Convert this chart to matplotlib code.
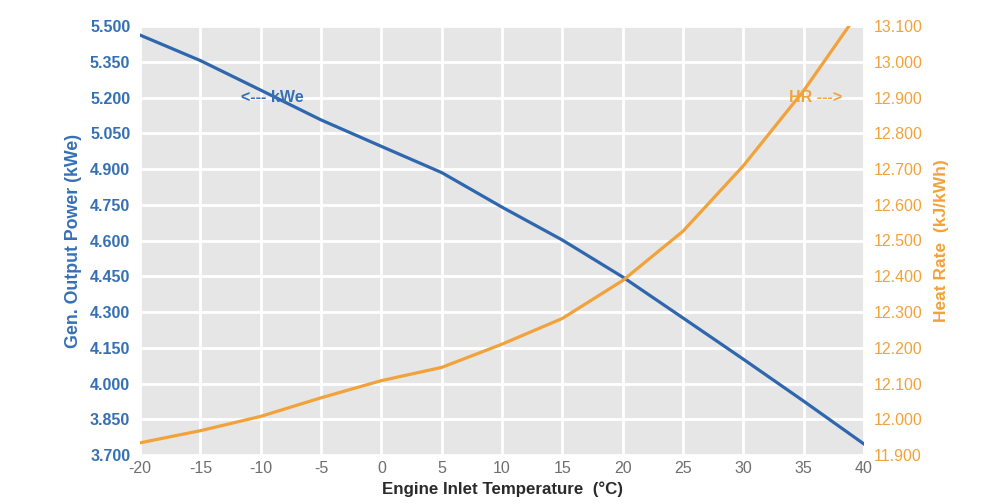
import matplotlib
matplotlib.use('Agg')
import matplotlib.pyplot as plt
import numpy as np

# engine inlet temperature (deg C)
temp = [-20, -15, -10, -5, 0, 5, 10, 15, 20, 25, 30, 35, 40]
# generator output power (kWe), left axis
kwe = [5.462, 5.355, 5.231, 5.106, 4.995, 4.885, 4.740, 4.602, 4.447, 4.275, 4.102, 3.926, 3.746]
# heat rate (kJ/kWh), right axis
hr = [11.934, 11.968, 12.008, 12.060, 12.108, 12.145, 12.210, 12.282, 12.388, 12.526, 12.709, 12.919, 13.16]

left_ticks = [3.700, 3.850, 4.000, 4.150, 4.300, 4.450, 4.600, 4.750, 4.900, 5.050, 5.200, 5.350, 5.500]
right_ticks = [11.900, 12.000, 12.100, 12.200, 12.300, 12.400, 12.500, 12.600, 12.700, 12.800, 12.900, 13.000, 13.100]
x_ticks = list(range(-20, 41, 5))

blue = '#2E67AE'
blue_txt = '#3570B5'
orange = '#F2A23A'
grey_txt = '#6E6E6E'

plt.rcParams['font.family'] = ['Liberation Sans', 'DejaVu Sans']

fig = plt.figure(figsize=(9.96, 5.04), dpi=100)
ax = fig.add_axes([140/996, 1-455/504, 724/996, 429/504])
ax.set_facecolor('#E6E6E6')

ax.plot(temp, kwe, color=blue, lw=2.3, zorder=3)
ax.set_xlim(-20, 40)
ax.set_ylim(3.7, 5.5)
ax.set_xticks(x_ticks)
ax.set_xticklabels([str(t) for t in x_ticks])
ax.set_yticks(left_ticks)
ax.set_yticklabels(['%.3f' % v for v in left_ticks])
ax.grid(True, color='white', lw=2)
ax.set_axisbelow(True)
for s in ax.spines.values():
    s.set_visible(False)
ax.tick_params(axis='y', length=0, pad=7, labelsize=11.5, labelcolor=blue_txt)
ax.tick_params(axis='x', length=0, pad=4, labelsize=11.5, labelcolor=grey_txt)
for lb in ax.get_yticklabels():
    lb.set_fontweight('bold')

ax.set_xlabel('Engine Inlet Temperature  (°C)', fontsize=12.2, fontweight='bold',
              color='#2A2A2A', labelpad=4)
ax.set_ylabel('Gen. Output Power (kWe)', fontsize=12.8, fontweight='bold',
              color=blue_txt, labelpad=6)

ax2 = ax.twinx()
ax2.plot(temp, hr, color=orange, lw=2.3, zorder=3)
ax2.set_ylim(11.9, 13.1)
ax2.set_yticks(right_ticks)
ax2.set_yticklabels(['%.3f' % v for v in right_ticks])
for s in ax2.spines.values():
    s.set_visible(False)
ax2.tick_params(axis='y', length=0, pad=7, labelsize=11.5, labelcolor=orange)
ax2.set_ylabel('Heat Rate  (kJ/kWh)', fontsize=12.5, fontweight='bold',
               color=orange, labelpad=8)

ax.text(-9, 5.2, '<--- kWe', color=blue_txt, fontsize=11.5, fontweight='bold',
        ha='center', va='center', zorder=4)
ax2.text(36, 12.9, 'HR --->', color=orange, fontsize=11.5, fontweight='bold',
         ha='center', va='center', zorder=4)

fig.savefig('out.png', dpi=100)
